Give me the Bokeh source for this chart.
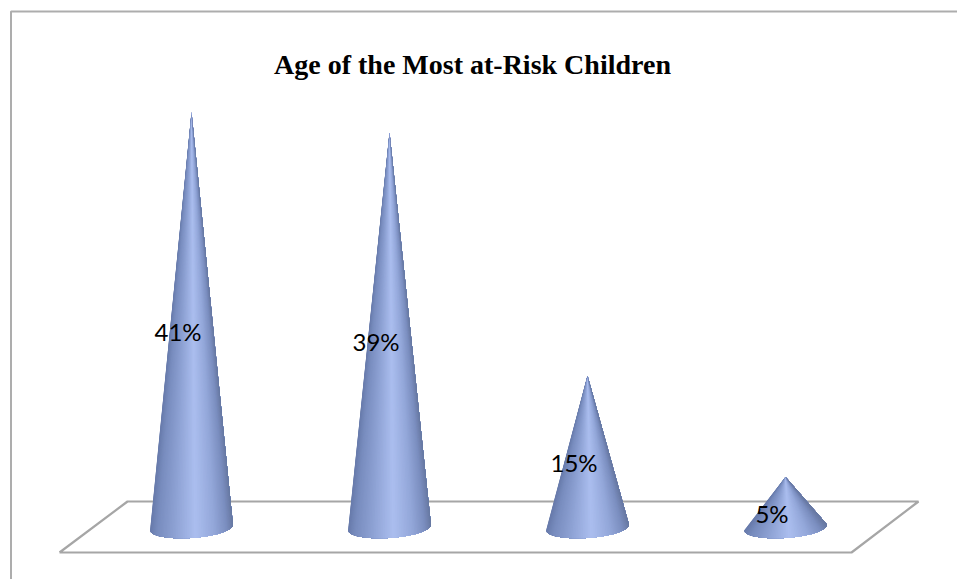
from math import cos, sin, pi, radians

from bokeh.core.properties import value
from bokeh.embed import file_html
from bokeh.models import ColumnDataSource, Range1d
from bokeh.plotting import figure
from bokeh.resources import INLINE

TITLE = "Age of the Most at-Risk Children"
positions = [0, 1, 2, 3]
shares = [41, 39, 15, 5]
share_labels = ["41%", "39%", "15%", "5%"]

W, H = 957, 579
X0, X_STEP = 191.0, 198.0    # pixel of first category, pixels per category
Y0, Y_STEP = 527.0, 10.12    # pixel of the zero level, pixels per percent


def xd(px):
    return (px - X0) / X_STEP


def yd(py):
    return (Y0 - py) / Y_STEP


p = figure(width=W, height=H, output_backend="svg", toolbar_location=None,
           x_range=Range1d(xd(0), xd(W)), y_range=Range1d(yd(H), yd(0)),
           min_border=0, outline_line_color=None, background_fill_color="white")
p.axis.visible = False
p.grid.visible = False

# chart frame, open at the right and bottom
p.line([xd(10.5), xd(10.5), xd(W)], [yd(H), yd(11), yd(11)], line_color="#adadad", line_width=2)

# floor of the 3D plot area
floor_x = [xd(59), xd(127), xd(918), xd(851), xd(59)]
floor_y = [yd(552), yd(501), yd(501), yd(552), yd(552)]
p.line(floor_x, floor_y, line_color="#a6a6a6", line_width=2.2)

# shading stops across the cone surface: (position from left to right, colour)
STOPS = [(0.00, (0x68, 0x7b, 0xab)), (0.08, (0x78, 0x8c, 0xbe)), (0.30, (0x8f, 0xa3, 0xd5)),
         (0.54, (0xab, 0xbe, 0xef)), (0.76, (0x94, 0xa8, 0xda)), (0.92, (0x7b, 0x8e, 0xbf)),
         (1.00, (0x68, 0x79, 0xa3))]


def shade(t):
    for (t0, c0), (t1, c1) in zip(STOPS, STOPS[1:]):
        if t <= t1:
            f = (t - t0) / (t1 - t0)
            return "#%02x%02x%02x" % tuple(round(a + (b - a) * f) for a, b in zip(c0, c1))
    return "#%02x%02x%02x" % STOPS[-1][1]


def base_point(pos, k, sectors):
    """Point k of the lower half of a cone's tilted base ellipse, in data units."""
    th = pi - pi * k / sectors
    ex, ey = A_PX * cos(th), B_PX * sin(th)
    return (pos + (ex * cos(TILT) - ey * sin(TILT)) / X_STEP,
            -(ex * sin(TILT) + ey * cos(TILT)) / Y_STEP)


# Each cone is painted left to right: every layer runs from the apex over the rest of the
# base, so later layers cover earlier ones and no seams show between the colour bands.
A_PX, B_PX, TILT, SECTORS = 41.5, 10.5, radians(-4), 70
xs, ys, fills = [], [], []
for pos, share in zip(positions, shares):
    arc = [base_point(pos, k, SECTORS) for k in range(SECTORS + 1)]
    for i in range(SECTORS):
        rest = arc[i:]
        xs.append([pos] + [a[0] for a in rest])
        ys.append([share] + [a[1] for a in rest])
        fills.append(shade((1 - cos(pi * (i + 0.5) / SECTORS)) / 2))

p.patches(xs, ys, fill_color=fills, line_color=None)

# value labels sit around the middle of each cone
labels = ColumnDataSource(dict(x=positions, y=[s / 2 for s in shares], text=share_labels))
p.text("x", "y", text="text", source=labels, x_offset=-13.5, y_offset=11,
       text_font=value("Lato"), text_font_size="24px", text_color="#000000",
       text_align="center", text_baseline="middle")

p.text([xd(472)], [yd(64)], text=[TITLE], text_font=value("Liberation Serif"),
       text_font_style="bold", text_font_size="28px", text_color="#000000",
       text_align="center", text_baseline="middle")

open("out.html", "w").write(file_html(p, INLINE))
